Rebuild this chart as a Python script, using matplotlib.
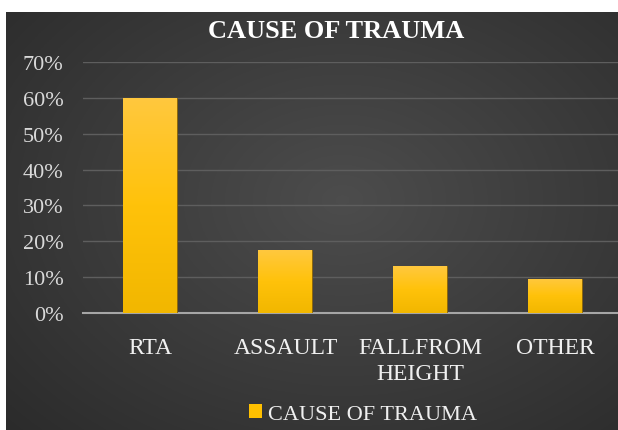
import numpy as np
import matplotlib
matplotlib.use("Agg")
import matplotlib.pyplot as plt
from matplotlib.patches import Patch

plt.rcParams['font.family'] = ['Liberation Serif', 'DejaVu Serif']

# data
causes = ['RTA', 'ASSAULT', 'FALLFROM\nHEIGHT', 'OTHER']
share = [0.60, 0.175, 0.13, 0.095]
series_name = 'CAUSE OF TRAUMA'
yticks = [0.0, 0.1, 0.2, 0.3, 0.4, 0.5, 0.6, 0.7]

W, H = 618, 431
fig = plt.figure(figsize=(W / 100, H / 100), dpi=100, facecolor='white')

# dark radial background for the chart area
bg = fig.add_axes([6 / W, 0, (W - 6) / W, (H - 13) / H], zorder=0)
yy, xx = np.mgrid[0:1:300j, 0:1:400j]
r = np.sqrt(((xx - 0.55) / 0.75) ** 2 + ((yy - 0.45) / 0.8) ** 2)
shade = np.clip(0.30 - 0.13 * r, 0.16, 0.30)
bg.imshow(np.dstack([shade, shade, shade]), aspect='auto', extent=[0, 1, 0, 1])
bg.axis('off')

ax = fig.add_axes([83 / W, (H - 314) / H, (W - 83) / W, 251 / H], zorder=1)
ax.patch.set_alpha(0)

x = np.arange(len(causes))
bars = ax.bar(x, share, width=0.4, color='#FFC000', edgecolor='#8a6408',
              linewidth=0.6, zorder=3)

# vertical gold gradient inside each bar
grad = np.linspace(0, 1, 100).reshape(-1, 1)
cmap = matplotlib.colors.LinearSegmentedColormap.from_list(
    'gold', ['#F2B700', '#FFC20A', '#FFC83E'])
for b in bars:
    im = ax.imshow(grad, cmap=cmap, aspect='auto', origin='lower', zorder=3.5,
                   extent=[b.get_x(), b.get_x() + b.get_width(), 0, b.get_height()])
    im.set_clip_path(b)

ax.set_xlim(-0.5, 3.463)
ax.set_ylim(0, 0.7)
ax.set_yticks(yticks)
ax.set_yticklabels([f'{int(round(t * 100))}%' for t in yticks])
ax.set_xticks(x)
ax.set_xticklabels(causes, linespacing=1.35)
ax.grid(axis='y', color='#5e5e5e', linewidth=1, zorder=1)
ax.set_axisbelow(True)
for s in ['top', 'right', 'left']:
    ax.spines[s].set_visible(False)
ax.spines['bottom'].set_color('#a6a6a6')
ax.spines['bottom'].set_linewidth(1.5)
ax.tick_params(axis='y', length=0, pad=14, labelsize=16, labelcolor='#d9d9d9')
ax.tick_params(axis='x', length=0, pad=17, labelsize=17, labelcolor='#f0f0f0')

fig.text(336 / W, (H - 31) / H, 'CAUSE OF TRAUMA', ha='center', va='center',
         fontsize=19, fontweight='bold', color='white')

fig.legend(handles=[Patch(facecolor='#FFC000', edgecolor='none', label=series_name)],
           loc='center', bbox_to_anchor=(363 / W, 16 / H), frameon=False,
           fontsize=16, labelcolor='#f0f0f0', handlelength=0.6, handleheight=0.6,
           handletextpad=0.25)

fig.savefig('out.png', dpi=100, facecolor='white')
